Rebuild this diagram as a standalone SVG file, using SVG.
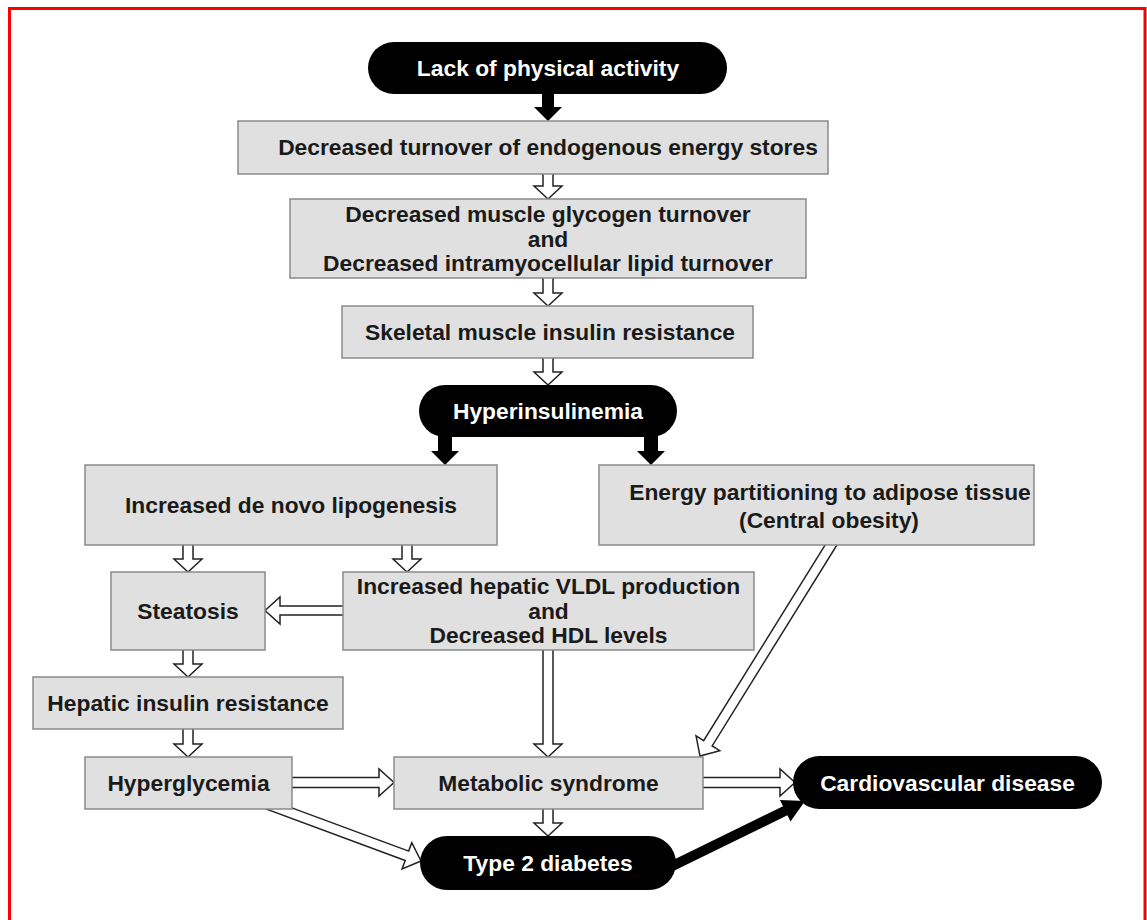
<svg xmlns="http://www.w3.org/2000/svg" width="1147" height="920" viewBox="0 0 1147 920">
<style>
.box{fill:#e0e0e0;stroke:#8a8a8a;stroke-width:1.5}
.pill{fill:#000}
.t{font-family:"Liberation Sans",Arial,sans-serif;font-weight:bold;font-size:22.8px;text-anchor:middle;fill:#1a1a1a}
.w{fill:#fff}
.open{fill:#fff;stroke:#222;stroke-width:1.5;stroke-linejoin:miter}
.solid{fill:#000}
</style>
<rect x="0" y="0" width="1147" height="920" fill="#fff"/>
<rect x="9.5" y="8.5" width="1135.5" height="940" fill="none" stroke="#ff0000" stroke-width="3"/>
<g id="connectors">
<path class="solid" d="M542,85 L554,85 L554,107 L562,107 L548,121 L534,107 L542,107 Z"/>
<path class="solid" d="M438,430 L452,430 L452,451 L459,451 L445,465 L431,451 L438,451 Z"/>
<path class="solid" d="M644,430 L658,430 L658,451 L665,451 L651,465 L637,451 L644,451 Z"/>
<path class="open" d="M543,170 L553,170 L553,186 L562,186 L548,199 L534,186 L543,186 Z"/>
<path class="open" d="M543,274 L553,274 L553,293 L562,293 L548,306 L534,293 L543,293 Z"/>
<path class="open" d="M543,354 L553,354 L553,372 L562,372 L548,385 L534,372 L543,372 Z"/>
<path class="open" d="M183,541 L193,541 L193,559 L202,559 L188,572 L174,559 L183,559 Z"/>
<path class="open" d="M402,541 L412,541 L412,559 L421,559 L407,572 L393,559 L402,559 Z"/>
<path class="open" d="M183,646 L193,646 L193,664 L202,664 L188,677 L174,664 L183,664 Z"/>
<path class="open" d="M183,725 L193,725 L193,744 L202,744 L188,757 L174,744 L183,744 Z"/>
<path class="open" d="M543,646 L553,646 L553,744 L562,744 L548,757 L534,744 L543,744 Z"/>
<path class="open" d="M543,805 L553,805 L553,823 L562,823 L548,836 L534,823 L543,823 Z"/>
<path class="open" d="M347,606 L280,606 L280,597 L265,610.5 L280,624 L280,615 L347,615 Z"/>
<path class="open" d="M288,777.5 L379,777.5 L379,769 L394,782.5 L379,796 L379,787.5 L288,787.5 Z"/>
<path class="open" d="M699,777.5 L780,777.5 L780,769 L795,782.5 L780,796 L780,787.5 L699,787.5 Z"/>
<path class="open" d="M251.19,803.48 L405.19,860.48 L402.07,868.92 L421,861 L411.79,842.66 L408.67,851.10 L254.67,794.10 Z"/>
<path class="open" d="M832.02,533.87 L703.66,740.62 L696.02,735.88 L700,756 L719.80,750.64 L712.16,745.90 L840.52,539.15 Z"/>
<path class="solid" d="M662.20,876.49 L787.44,815.17 L790.52,821.46 L805,801 L779.96,799.90 L783.04,806.19 L657.80,867.51 Z"/>
</g>
<g id="n1"><rect class="pill" x="368" y="42" width="359" height="52" rx="26"/><text class="t w" x="548" y="76">Lack of physical activity</text></g>
<g id="n2"><rect class="box" x="238" y="121" width="590" height="53"/><text class="t" x="548" y="155">Decreased turnover of endogenous energy stores</text></g>
<g id="n3"><rect class="box" x="290" y="199" width="516" height="79"/><text class="t" x="548" y="222">Decreased muscle glycogen turnover</text><text class="t" x="548" y="246.5">and</text><text class="t" x="548" y="271">Decreased intramyocellular lipid turnover</text></g>
<g id="n4"><rect class="box" x="342" y="306" width="411" height="52"/><text class="t" x="550" y="340">Skeletal muscle insulin resistance</text></g>
<g id="n5"><rect class="pill" x="419" y="385" width="258" height="52" rx="26"/><text class="t w" x="548" y="419">Hyperinsulinemia</text></g>
<g id="n6"><rect class="box" x="85" y="465" width="412" height="80"/><text class="t" x="291" y="513">Increased de novo lipogenesis</text></g>
<g id="n7"><rect class="box" x="599" y="465" width="435" height="80"/><text class="t" x="830" y="500">Energy partitioning to adipose tissue</text><text class="t" x="829" y="528">(Central obesity)</text></g>
<g id="n8"><rect class="box" x="111" y="572" width="154" height="78"/><text class="t" x="188" y="618.5">Steatosis</text></g>
<g id="n9"><rect class="box" x="343" y="572" width="411" height="78"/><text class="t" x="548.5" y="594">Increased hepatic VLDL production</text><text class="t" x="548.5" y="618.5">and</text><text class="t" x="548.5" y="643">Decreased HDL levels</text></g>
<g id="n10"><rect class="box" x="33" y="677" width="310" height="52"/><text class="t" x="188" y="711">Hepatic insulin resistance</text></g>
<g id="n11"><rect class="box" x="85" y="757" width="207" height="52"/><text class="t" x="188.5" y="790.5">Hyperglycemia</text></g>
<g id="n12"><rect class="box" x="394" y="757" width="309" height="52"/><text class="t" x="548.5" y="790.5">Metabolic syndrome</text></g>
<g id="n13"><rect class="pill" x="793" y="756" width="309" height="53" rx="26.5"/><text class="t w" x="947.5" y="790.5">Cardiovascular disease</text></g>
<g id="n14"><rect class="pill" x="420" y="836" width="256" height="54" rx="27"/><text class="t w" x="548" y="871">Type 2 diabetes</text></g>
</svg>
